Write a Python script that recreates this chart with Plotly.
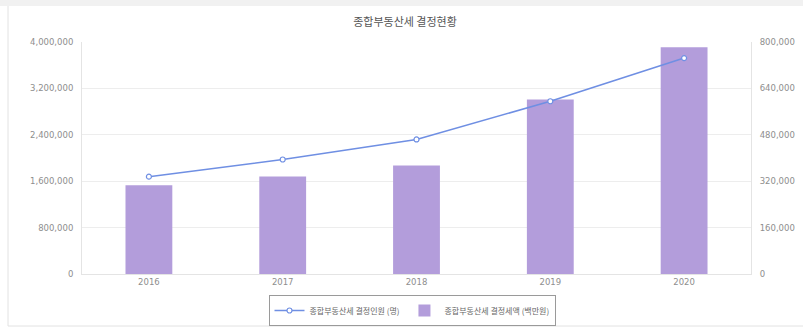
import plotly.graph_objects as go

years = ["2016", "2017", "2018", "2019", "2020"]
tax_amount = [1529800, 1683000, 1872800, 3010000, 3908000]   # 결정세액 (백만원)
taxpayers = [335600, 394800, 464000, 595700, 744600]          # 결정인원 (명)

left_ticks = [0, 800000, 1600000, 2400000, 3200000, 4000000]
right_ticks = [0, 160000, 320000, 480000, 640000, 800000]

W, H = 803, 327
L, R, T, B = 82, 52, 42, 53
pw, ph = W - L - R, H - T - B

def px(x):
    return (x - L) / pw

def py(y):
    return (H - B - y) / ph

num_font = dict(family="DejaVu Sans, Verdana, sans-serif", size=8.5, color="#8e8e8e")
kr_font = "Noto Sans CJK KR, sans-serif"

fig = go.Figure()
fig.add_trace(go.Bar(
    x=years, y=tax_amount, name="종합부동산세 결정세액 (백만원)",
    marker=dict(color="#b39ddb", line=dict(width=0)), width=0.35,
    yaxis="y",
))
fig.add_trace(go.Scatter(
    x=years, y=taxpayers, name="종합부동산세 결정인원 (명)",
    mode="lines+markers", yaxis="y2",
    line=dict(color="#6f8fe3", width=1.6),
    marker=dict(symbol="circle", size=5, color="white", line=dict(color="#6f8fe3", width=1.2)),
))

fig.update_layout(
    width=W, height=H,
    margin=dict(l=L, r=R, t=T, b=B, autoexpand=False),
    paper_bgcolor="white", plot_bgcolor="white",
    showlegend=True,
    title=dict(text="종합부동산세 결정현황", x=(405) / W, xanchor="center",
               y=1 - 22 / H, yanchor="middle",
               font=dict(family=kr_font, size=11, color="#555555")),
    xaxis=dict(showgrid=False, showline=True, linecolor="#e4e4e4", linewidth=1,
               ticks="", tickfont=num_font, range=[-0.5, 4.5]),
    yaxis=dict(range=[0, 4000000], tickvals=left_ticks, tickformat=",d",
               showgrid=True, gridcolor="#ededed", gridwidth=1,
               showline=True, linecolor="#e4e4e4", linewidth=1,
               zeroline=False, tickfont=num_font, ticks="", ticklabelstandoff=6),
    yaxis2=dict(range=[0, 800000], tickvals=right_ticks, tickformat=",d",
                overlaying="y", side="right", showgrid=False,
                showline=True, linecolor="#e4e4e4", linewidth=1,
                zeroline=False, tickfont=num_font, ticks="", ticklabelstandoff=6),
    legend=dict(orientation="h", x=px(412), xanchor="center", y=py(295), yanchor="top",
                bordercolor="#9a9a9a", borderwidth=1, bgcolor="white",
                font=dict(family=kr_font, size=8, color="#666666"),
                traceorder="reversed", itemwidth=30, tracegroupgap=0),
    shapes=[
        dict(type="rect", xref="paper", yref="paper", x0=px(0), x1=px(W), y0=py(6), y1=py(0),
             fillcolor="#f1f1f1", line=dict(width=0), layer="below"),
        dict(type="line", xref="paper", yref="paper", x0=px(8), x1=px(8), y0=py(6), y1=py(326),
             line=dict(color="#e2e2e2", width=1)),
        dict(type="line", xref="paper", yref="paper", x0=px(8), x1=px(W), y0=py(326), y1=py(326),
             line=dict(color="#e2e2e2", width=1)),
    ],
)

fig.write_html("out.html")
